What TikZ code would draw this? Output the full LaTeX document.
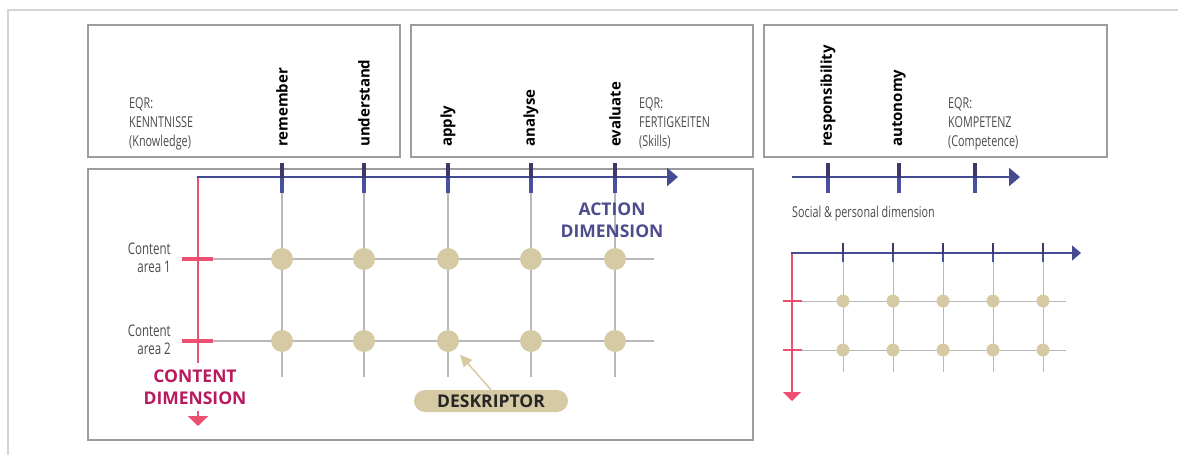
\documentclass[tikz,border=0pt]{standalone}
\usepackage{fontspec}
\setmainfont{Open Sans}
\newfontfamily\condfont[FakeStretch=0.72]{Open Sans}
\usetikzlibrary{arrows.meta,shapes.misc,calc}
\definecolor{framegray}{HTML}{9C9C9C}
\definecolor{outergray}{HTML}{D4D4D4}
\definecolor{gridgray}{HTML}{B8B8B8}
\definecolor{descbeige}{HTML}{D6CAA4}
\definecolor{actionblue}{HTML}{4851A0}
\definecolor{actiondark}{HTML}{3D3868}
\definecolor{contentpink}{HTML}{EB5073}
\definecolor{contentred}{HTML}{B81A5E}
\definecolor{labelgray}{HTML}{4A4A4A}
\definecolor{actiontext}{HTML}{4D4C8C}
\tikzset{
  eqrbox/.style={draw=framegray, line width=1.5pt},
  verb/.style={rotate=90, anchor=west, inner sep=0pt, text=black,
    font=\fontsize{15}{18}\selectfont\bfseries},
  eqrlabel/.style={anchor=north west, inner sep=0pt, align=left, text=labelgray,
    font=\condfont\fontsize{15}{19}\selectfont},
  arealabel/.style={anchor=north east, inner sep=0pt, align=right, text=labelgray,
    font=\condfont\fontsize{16}{18}\selectfont},
  dimlabel/.style={anchor=north, inner sep=0pt, align=center,
    font=\fontsize{17.5}{22}\selectfont\bfseries},
  actionaxis/.style={actionblue!75!actiondark, line width=2.5pt,
    -{Triangle[length=11pt,width=18pt]}},
  contentaxis/.style={contentpink, line width=2.5pt},
  acttick/.style={actiondark, line width=4pt},
  actticklow/.style={actionblue, line width=4pt},
  contick/.style={contentpink, line width=4pt},
  gridline/.style={gridgray, line width=1.5pt},
  desc/.style={circle, fill=descbeige, minimum size=22pt, inner sep=0pt},
  smalldesc/.style={circle, fill=descbeige, minimum size=13pt, inner sep=0pt}
}
\begin{document}
\begin{tikzpicture}[x=1pt,y=-1pt]
    \useasboundingbox (0,0) rectangle (1178,455);
    % light outer frame
    \coordinate (fl) at (8,455);
    \coordinate (fc) at (8,10);
    \coordinate (fr) at (1178,10);
    \draw [outergray, line width=2pt] (fl) -- (fc) -- (fr);
    % boxes
    \draw [eqrbox] (88,25) rectangle (400,157);
    \draw [eqrbox] (411,25) rectangle (753,157);
    \draw [eqrbox] (764,25) rectangle (1107,157);
    \draw [eqrbox] (88,169) rectangle (753,440);
    % EQR texts
    \node [eqrlabel] (kenntnisse) at (129,97) {EQR:\\KENNTNISSE\\(Knowledge)};
    \node [eqrlabel] (fertigkeiten) at (639,97) {EQR:\\FERTIGKEITEN\\(Skills)};
    \node [eqrlabel] (kompetenz) at (948,97) {EQR:\\KOMPETENZ\\(Competence)};
    % big grid
    \foreach \x/\c in {282/1,364/2,448/3,531/4,615/5} {
      \coordinate (gt\c) at (\x,193);
      \coordinate (gb\c) at (\x,377);
      \draw [gridline] (gt\c) -- (gb\c);
    }
    \foreach \y/\r in {259/1,341/2} {
      \coordinate (gl\r) at (213,\y);
      \coordinate (gr\r) at (654,\y);
      \draw [gridline] (gl\r) -- (gr\r);
    }
    \coordinate (O) at (198,177);
    \coordinate (aend) at (678,177);
    \coordinate (cend) at (198,363);
    \coordinate (cstub) at (198,411);
    \coordinate (ctip) at (198,426);
    \draw [contentaxis] (O) -- (cend);
    \draw [contentaxis, -{Triangle[length=10pt,width=20pt]}] (cstub) -- (ctip);
    \draw [actionaxis] ($(O)+(-1.25,0)$) -- (aend);
    \foreach \x/\c in {282/1,364/2,448/3,531/4,615/5} {
      \coordinate (tt\c) at (\x,163);
      \coordinate (tm\c) at (\x,178);
      \draw [actticklow] (tm\c) -- (gt\c);
      \draw [acttick] (tt\c) -- (tm\c);
    }
    \foreach \y/\r in {259/1,341/2} {
      \coordinate (tl\r) at (182,\y);
      \draw [contick] (tl\r) -- (gl\r);
      \foreach \x/\c in {282/1,364/2,448/3,531/4,615/5}
        \node [desc] (d\r\c) at (\x,\y) {};
    }
    % verbs
    \node [verb] (remember) at (282,147) {remember};
    \node [verb] (understand) at (364,147) {understand};
    \node [verb] (apply) at (448,147) {apply};
    \node [verb] (analyse) at (531,147) {analyse};
    \node [verb] (evaluate) at (615,147) {evaluate};
    \node [verb] (responsibility) at (828,147) {responsibility};
    \node [verb] (autonomy) at (899,147) {autonomy};
    % area labels
    \node [arealabel] (area1) at (171,243) {Content\\area 1};
    \node [arealabel] (area2) at (171,325) {Content\\area 2};
    \node [dimlabel, text=contentred] (contentdim) at (195,370) {CONTENT\\DIMENSION};
    \node [dimlabel, text=actiontext] (actiondim) at (612,203) {ACTION\\DIMENSION};
    % deskriptor
    \node [rounded rectangle, fill=descbeige, minimum width=154pt, minimum height=22pt,
      inner sep=0pt, text=black!85, font=\fontsize{17.5}{20}\selectfont\bfseries]
      (deskriptor) at (491,401) {DESKRIPTOR};
    \draw [descbeige, line width=1.5pt, shorten >=7pt,
      -{Triangle[length=12pt,width=11pt]}] (deskriptor.north) -- (d23);
    % social axis
    \coordinate (sstart) at (792,177);
    \coordinate (send) at (1020,177);
    \draw [actionaxis] (sstart) -- (send);
    \foreach \x/\c in {828/1,899/2,975/3} {
      \coordinate (st\c) at (\x,163);
      \coordinate (sm\c) at (\x,178);
      \coordinate (sb\c) at (\x,193);
      \draw [actticklow] (sm\c) -- (sb\c);
      \draw [acttick] (st\c) -- (sm\c);
    }
    \node [anchor=base west, inner sep=0pt, text=labelgray,
      font=\condfont\fontsize{15}{18}\selectfont] (social) at (792,217)
      {Social \& personal dimension};
    % small grid
    \foreach \x/\c in {843/1,893/2,943/3,993/4,1043/5} {
      \coordinate (kt\c) at (\x,262);
      \coordinate (kb\c) at (\x,372);
      \draw [gridline, line width=1pt] (kt\c) -- (kb\c);
    }
    \foreach \y/\r in {301/1,350/2} {
      \coordinate (kl\r) at (802,\y);
      \coordinate (kr\r) at (1066,\y);
      \draw [gridline, line width=1pt] (kl\r) -- (kr\r);
    }
    \coordinate (so) at (792,253);
    \coordinate (saend) at (1081,253);
    \coordinate (scend) at (792,401);
    \draw [contentaxis, line width=1.5pt, -{Triangle[length=9pt,width=18pt]}] (so) -- (scend);
    \draw [actionaxis, line width=1.5pt, -{Triangle[length=9pt,width=15pt]}] ($(so)+(-0.75,0)$) -- (saend);
    \foreach \x/\c in {843/1,893/2,943/3,993/4,1043/5} {
      \coordinate (ku\c) at (\x,243);
      \coordinate (km\c) at (\x,254);
      \draw [actticklow, line width=2.5pt] (km\c) -- (kt\c);
      \draw [acttick, line width=2.5pt] (ku\c) -- (km\c);
    }
    \foreach \y/\r in {301/1,350/2} {
      \coordinate (kc\r) at (783,\y);
      \draw [contick, line width=2.5pt] (kc\r) -- (kl\r);
      \foreach \x/\c in {843/1,893/2,943/3,993/4,1043/5}
        \node [smalldesc] (s\r\c) at (\x,\y) {};
    }
\end{tikzpicture}
\end{document}
